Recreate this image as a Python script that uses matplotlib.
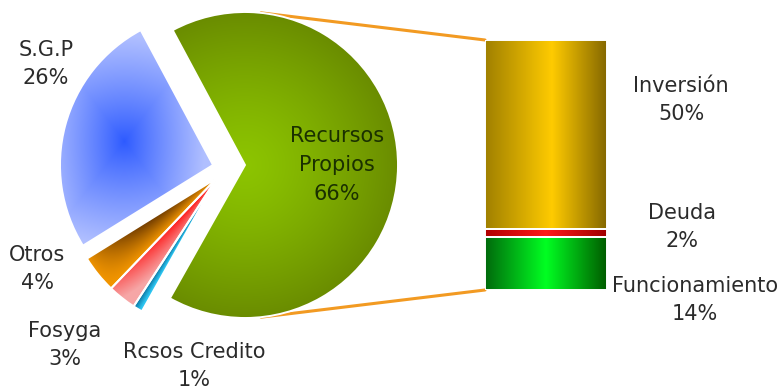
import numpy as np
import matplotlib
matplotlib.use("Agg")
import matplotlib.pyplot as plt
from matplotlib.colors import to_rgb, LinearSegmentedColormap
from matplotlib.patches import ConnectionPatch

# Fuentes de ingreso (torta)
fuentes = ["Recursos\nPropios", "S.G.P", "Otros", "Fosyga", "Rcsos Credito"]
fuentes_pct = [66, 26, 4, 3, 1]

# Destino de los recursos propios (barra), de abajo hacia arriba
destinos = ["Funcionamiento", "Deuda", "Inversión"]
destinos_pct = [14, 2, 50]

W, H = 781, 390
fig = plt.figure(figsize=(W / 100, H / 100), dpi=100)
fig.patch.set_facecolor("white")

# --- torta: ejes en unidades de pixel ---
ax = fig.add_axes([0, 0, 1, 1])
centro = (245, 225)
radio = 153
wedges, _ = ax.pie(fuentes_pct, startangle=240.6, counterclock=True,
                   center=centro, radius=radio, frame=True,
                   wedgeprops=dict(edgecolor="white", linewidth=1.4))

# desplazamiento de las porciones separadas
desplaza = [(0, 0), (-32, 0), (-28, -13), (-28, -13), (-28, -13)]
for w, (dx, dy) in zip(wedges, desplaza):
    w.set_center((centro[0] + dx, centro[1] + dy))

X, Y = np.meshgrid(np.arange(W) + 0.5, np.arange(H) + 0.5)


def mezcla(c1, c2, t):
    a = np.array(to_rgb(c1))
    b = np.array(to_rgb(c2))
    t = np.clip(t, 0, 1)[..., None]
    return a * (1 - t) + b * t


def polares(w):
    cx, cy = w.center
    dx, dy = X - cx, Y - cy
    r = np.hypot(dx, dy) / w.r
    ang = np.degrees(np.arctan2(dy, dx)) % 360
    t = ((ang - w.theta1) % 360) / (w.theta2 - w.theta1)
    return r, np.clip(t, 0, 1)


def pintar(axe, patch, rgb, extent):
    im = axe.imshow(rgb, extent=extent, origin="lower", interpolation="bilinear",
                    aspect="auto", zorder=patch.get_zorder() - 0.5)
    im.set_clip_path(patch)
    patch.set_facecolor("none")


# Recursos propios: degradado radial verde oliva
r, t = polares(wedges[0])
pintar(ax, wedges[0], mezcla("#8cc400", "#6a8c00", r ** 1.3), (0, W, 0, H))

# S.G.P: azul intenso al centro, claro hacia los bordes
w = wedges[1]
mid = np.radians((w.theta1 + w.theta2) / 2)
gx = w.center[0] + 0.6 * w.r * np.cos(mid)
gy = w.center[1] + 0.6 * w.r * np.sin(mid)
dxs, dys = np.abs(X - gx) / 80, np.abs(Y - gy) / 105
d = 0.55 * np.maximum(dxs, dys) + 0.45 * np.hypot(dxs, dys)
pintar(ax, w, mezcla("#2d5aff", "#b0bfff", d ** 0.9), (0, W, 0, H))

# Otros: cafe oscuro en el borde superior, naranja hacia afuera
r, t = polares(wedges[2])
d = (1 - t) * np.sin(np.pi * np.clip(r, 0, 1)) ** 0.8
pintar(ax, wedges[2], mezcla("#f39600", "#6e3a00", d), (0, W, 0, H))

# Fosyga: rojo a rosado
r, t = polares(wedges[3])
pintar(ax, wedges[3], mezcla("#ff0808", "#f6a6a6", 0.6 * t + 0.7 * r ** 2),
       (0, W, 0, H))

# Recursos de credito: azul a cian
r, t = polares(wedges[4])
pintar(ax, wedges[4], mezcla("#0a6f9c", "#2cc4f0", t * 1.3), (0, W, 0, H))

ax.set_xlim(0, W)
ax.set_ylim(0, H)
ax.set_aspect("auto")
ax.axis("off")

# --- barra apilada ---
axb = fig.add_axes([485 / W, 100 / H, 122 / W, 250 / H])
cmaps = [
    LinearSegmentedColormap.from_list("fun", [(0, "#006a0c"), (0.5, "#00ff22"), (1, "#005c00")]),
    LinearSegmentedColormap.from_list("deu", [(0, "#b00000"), (0.5, "#ff1a1a"), (1, "#a00000")]),
    LinearSegmentedColormap.from_list("inv", [(0, "#a08000"), (0.55, "#ffcb00"), (1, "#856800")]),
]
perfil = np.linspace(0, 1, 200)[None, :]
base = 0
for val, cm in zip(destinos_pct, cmaps):
    barra = axb.bar(0, val, bottom=base, width=1, edgecolor="white", linewidth=1.4)[0]
    pintar(axb, barra, cm(perfil), (-0.5, 0.5, base, base + val))
    base += val
axb.set_xlim(-0.5, 0.5)
axb.set_ylim(0, sum(destinos_pct))
axb.axis("off")

# --- lineas de conexion ---
total_barra = sum(destinos_pct)
ang = np.radians(84)
for sgn, yb in [(1, total_barra), (-1, 0)]:
    xy_pie = (centro[0] + radio * np.cos(ang), centro[1] + sgn * radio * np.sin(ang))
    con = ConnectionPatch(xyA=(-0.5, yb), coordsA=axb.transData,
                          xyB=xy_pie, coordsB=ax.transData,
                          color="#f29a22", linewidth=2.2, zorder=0)
    fig.add_artist(con)

# --- etiquetas ---
estilo = dict(fontsize=15, ha="center", va="center", linespacing=1.55,
              family="DejaVu Sans")
pos_fuentes = [(337, 165), (46, 64), (37, 269), (65, 345), (194, 366)]
colores_fuentes = ["#1a3000", "#2b2b2b", "#2b2b2b", "#2b2b2b", "#2b2b2b"]
for nom, val, (px, py), c in zip(fuentes, fuentes_pct, pos_fuentes, colores_fuentes):
    ax.text(px, H - py, f"{nom}\n{val}%", color=c, **estilo)

pos_destinos = [(695, 300), (682, 227), (681, 100)]
for nom, val, (px, py) in zip(destinos, destinos_pct, pos_destinos):
    ax.text(px, H - py, f"{nom}\n{val}%", color="#2b2b2b", **estilo)

fig.savefig("out.png", dpi=100, facecolor="white")
